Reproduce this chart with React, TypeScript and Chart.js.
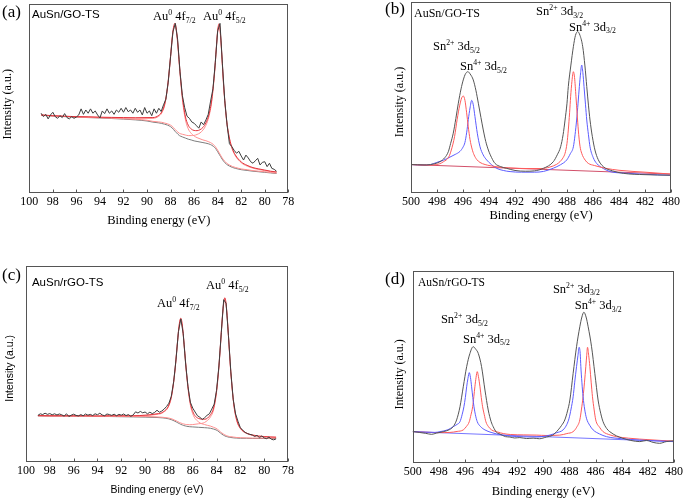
import React, { useEffect, useRef } from "react";
import { Chart, registerables } from "chart.js";

Chart.register(...registerables);

const SERIF = '"Liberation Serif", "Times New Roman", serif';
const SANS = '"Liberation Sans", Arial, sans-serif';

// ---------------- Panel (a): AuSn/GO-TS, Au 4f ----------------
const A_RAW_START = 99;
const A_RAW_STEP = 0.2;
const A_RAW = [
  42.1, 40.3, 41.5, 39.1, 41.2, 42.6, 40.3, 39.4, 40.8, 39.8,
  41.9, 39.8, 39.1, 40.3, 39.4, 40.1, 41.2, 44.4, 41.5, 43.8,
  42.1, 44.4, 42.1, 43.3, 41.2, 39.6, 43.3, 41.9, 44.4, 42.1,
  43.3, 41.5, 43.8, 42.6, 44.7, 42.6, 45.1, 42.9, 43.8, 42.1,
  44.7, 42.6, 43.8, 41.2, 45.1, 42.1, 43.3, 40.8, 44.4, 42.1,
  44.7, 43.0, 46.5, 49.5, 58.5, 72.0, 85.0, 89.5, 81.0, 64.0,
  51.5, 45.0, 40.5, 39.4, 37.5, 36.8, 35.5, 34.2, 37.5, 36.0,
  38.5, 41.5, 48.5, 55.0, 69.0, 85.5, 89.5, 68.5, 49.0, 36.0,
  26.0, 24.5, 22.5, 21.0, 22.0, 19.5, 17.4, 20.0, 18.5, 16.5,
  15.7, 17.0, 18.3, 14.8, 16.2, 16.5, 13.9, 15.7, 13.0, 12.5,
  11.5,
];
const A_FIT_X = [
  99, 98, 97, 96, 95, 94, 93, 92, 91, 90,
  89.5, 89, 88.75, 88.5, 88.25, 88,
  87.875, 87.75, 87.625, 87.5, 87.375, 87.25, 87,
  86.75, 86.5, 86.25, 86,
  85.75, 85.5, 85.25, 85,
  84.75, 84.5, 84.25, 84.125, 84,
  83.875, 83.75, 83.625, 83.5, 83.25, 83,
  82.75, 82.5, 82,
  81.5, 81, 80.5, 80, 79.5, 79,
];
const A_BG = [
  41.0, 40.6, 40.3, 40.0, 39.8, 39.6, 39.3, 39.0, 38.6, 38.0,
  37.4, 37.0, 36.7, 36.3, 35.8, 35.0,
  34.4, 33.5, 32.6, 31.8, 31.0, 30.3, 29.6,
  29.0, 28.4, 28.0, 27.5,
  27.2, 26.9, 26.6, 26.3,
  25.9, 25.2, 24.0, 23.0, 21.8,
  20.5, 19.2, 17.9, 16.8, 15.2, 14.2,
  13.5, 13.0, 12.3,
  11.9, 11.5, 11.2, 10.9, 10.6, 10.3,
];
const A_COMP1 = [
  41.1, 40.7, 40.5, 40.2, 40.1, 39.9, 39.7, 39.6, 39.5, 39.4,
  39.4, 40.5, 42.2, 46.3, 55.8, 71.5,
  80.4, 86.5, 88.6, 84.8, 77.0, 66.8, 49.6,
  39.0, 33.9, 31.5, 30.1,
  29.2, 28.6, 28.0, 27.6,
  27.0, 26.2, 24.9, 23.8, 22.6,
  21.3, 19.9, 18.6, 17.5, 15.8, 14.8,
  14.0, 13.5, 12.7,
  12.3, 11.8, 11.5, 11.2, 10.8, 10.5,
];
const A_COMP2 = [
  41.1, 40.7, 40.4, 40.1, 39.9, 39.7, 39.5, 39.2, 38.9, 38.4,
  37.8, 37.5, 37.3, 36.9, 36.5, 35.8,
  35.3, 34.4, 33.6, 32.8, 32.1, 31.5, 31.0,
  30.6, 30.3, 30.3, 30.4,
  30.9, 31.7, 33.2, 35.7,
  40.1, 48.4, 64.1, 75.0, 84.9,
  88.5, 82.3, 69.9, 56.9, 38.4, 28.4,
  22.9, 19.6, 16.0,
  14.2, 13.1, 12.4, 11.8, 11.3, 10.9,
];
const A_ENV = [
  41.2, 40.8, 40.5, 40.3, 40.2, 40.0, 39.9, 39.8, 39.7, 39.8,
  39.8, 41.0, 42.8, 46.9, 56.5, 72.3,
  81.3, 87.4, 89.6, 85.8, 78.1, 68.0, 51.0,
  40.6, 35.8, 33.8, 33.0,
  32.9, 33.4, 34.6, 37.0,
  41.2, 49.4, 64.9, 75.8, 85.7,
  89.3, 83.0, 70.6, 57.6, 39.0, 29.0,
  23.4, 20.1, 16.4,
  14.6, 13.4, 12.7, 12.1, 11.5, 11.1,
];

// ---------------- Panel (c): AuSn/rGO-TS, Au 4f ----------------
const C_RAW_START = 99;
const C_RAW_STEP = 0.2;
const C_RAW = [
  23.8, 24.6, 24.2, 24.9, 24.3, 24.7, 24.1, 24.6, 24.0, 24.5,
  24.1, 23.4, 24.6, 23.2, 23.9, 24.4, 23.8, 23.5, 24.2, 23.6,
  24.5, 23.9, 24.3, 23.7, 24.6, 24.1, 24.9, 24.0, 23.6, 24.5,
  24.2, 23.8, 24.4, 23.6, 24.3, 23.9, 24.5, 23.7, 24.2, 23.3,
  24.0, 25.6, 25.0, 25.8, 25.1, 25.5, 24.6, 25.4, 24.7, 25.3,
  26.4, 25.4, 26.0, 27.0, 28.3, 30.0, 33.5, 41.0, 52.5, 66.5,
  73.0, 65.5, 50.5, 38.5, 30.5, 27.5, 25.5, 23.6, 22.8, 21.7,
  22.6, 23.8, 24.6, 27.0, 29.5, 36.5, 49.0, 66.0, 82.8, 81.0,
  64.5, 46.0, 32.0, 24.5, 20.8, 17.5, 16.2, 15.1, 14.5, 14.1,
  13.8, 13.0, 13.6, 12.4, 13.3, 12.3, 11.9, 12.7, 11.6, 11.3,
  11.8,
];
const C_FIT_X = [
  99, 98, 97, 96, 95, 94, 93, 92, 91, 90,
  89, 88.5, 88, 87.75, 87.5,
  87.375, 87.25, 87.125, 87, 86.875, 86.75, 86.625, 86.5,
  86.25, 86, 85.5, 85, 84.5, 84.25,
  84.05, 83.925, 83.8, 83.675, 83.55, 83.425, 83.3,
  83.175, 83.05, 82.925, 82.8, 82.55, 82.3, 82,
  81.5, 81, 80, 79,
];
const C_BG = [
  23.5, 23.4, 23.4, 23.3, 23.3, 23.2, 23.2, 23.1, 23.0, 22.9,
  22.7, 22.5, 22.0, 21.5, 20.8,
  20.4, 20.0, 19.6, 19.2, 18.9, 18.6, 18.4, 18.2,
  18.0, 17.9, 17.7, 17.5, 17.2, 16.8,
  16.4, 16.0, 15.4, 14.8, 14.2, 13.7, 13.3,
  13.0, 12.8, 12.6, 12.5, 12.3, 12.2, 12.1,
  12.1, 12.0, 12.0, 12.0,
];
const C_COMP1 = [
  23.6, 23.5, 23.5, 23.5, 23.5, 23.4, 23.4, 23.4, 23.4, 23.7,
  24.3, 25.2, 28.7, 34.3, 45.9,
  54.1, 62.8, 69.9, 72.7, 69.2, 61.4, 52.1, 43.3,
  30.8, 24.6, 20.4, 19.1, 18.3, 17.7,
  17.2, 16.7, 16.1, 15.4, 14.8, 14.3, 13.8,
  13.5, 13.2, 13.0, 12.9, 12.7, 12.5, 12.4,
  12.3, 12.2, 12.2, 12.2,
];
const C_COMP2 = [
  23.6, 23.5, 23.5, 23.4, 23.4, 23.3, 23.4, 23.3, 23.2, 23.2,
  23.0, 22.8, 22.4, 22.0, 21.3,
  21.0, 20.6, 20.2, 19.9, 19.6, 19.4, 19.2, 19.1,
  19.0, 19.1, 19.5, 20.2, 23.1, 26.6,
  33.2, 39.8, 48.3, 58.9, 70.2, 79.5, 83.3,
  78.8, 68.8, 56.7, 45.4, 29.1, 21.0, 17.0,
  14.6, 13.6, 12.8, 12.5,
];
const C_ENV = [
  23.7, 23.6, 23.6, 23.6, 23.6, 23.5, 23.6, 23.6, 23.6, 23.9,
  24.6, 25.5, 29.1, 34.8, 46.4,
  54.7, 63.4, 70.5, 73.4, 69.9, 62.2, 52.9, 44.2,
  31.8, 25.8, 22.2, 21.8, 24.2, 27.5,
  34.0, 40.5, 49.0, 59.5, 70.8, 80.1, 83.8,
  79.3, 69.2, 57.1, 45.8, 29.5, 21.3, 17.3,
  14.8, 13.8, 13.0, 12.7,
];

// ---------------- Panel (b): AuSn/GO-TS, Sn 3d ----------------
const B_BG_X = [500, 480];
const B_BG = [14.9, 9.9];
const B_BLACK_X = [
  500, 499, 498.8, 498.2, 497.77, 497.4, 497.13, 496.95, 496.75, 496.55,
  496.36, 496.15, 495.98, 495.8, 495.62, 495.45, 495.21, 495.0, 494.82, 494.62,
  494.44, 494.25, 494.05, 493.8, 493.54, 493.1, 492.64, 492, 491.2, 490.5,
  489.82, 489.05, 488.75, 488.49, 488.3, 488.15, 488.0, 487.9, 487.7, 487.51,
  487.35, 487.18, 487.0, 486.79, 486.62, 486.48, 486.35, 486.23, 486.05, 485.85,
  485.6, 485.21, 484.5, 483.67, 482, 480.08,
];
const B_BLACK = [
  14.9, 14.7, 14.7, 15.3, 16.4, 18.5, 21.6, 26.0, 31.3, 39.0,
  47.0, 54.5, 59.2, 62.5, 63.5, 62.3, 59.2, 53.5, 47.0, 39.5,
  33.0, 27.0, 22.5, 18.5, 15.5, 13.8, 12.9, 11.8, 11.4, 11.6,
  12.9, 16.4, 20.0, 24.2, 30.5, 38.2, 47.0, 55.7, 67.0, 76.6,
  82.5, 84.5, 82.5, 76.6, 66.5, 55.7, 46.0, 38.2, 29.5, 22.5,
  17.5, 13.8, 11.6, 10.3, 9.6, 9.3,
];
const B_RED_X = [
  500, 499, 498.3, 497.8, 497.5, 497.1, 496.9, 496.65, 496.45, 496.25,
  496.1, 495.98, 495.85, 495.72, 495.6, 495.46, 495.3, 495.15, 494.95, 494.69,
  494.3, 493.92, 493, 492, 491, 490, 489.31, 488.8, 488.54, 488.3,
  488.15, 488.0, 487.9, 487.8, 487.72, 487.62, 487.51, 487.42, 487.31, 487.22,
  487.13, 487.0, 486.87, 486.6, 486.36, 485.9, 485.46, 485, 484, 482,
  480,
];
const B_RED = [
  14.9, 14.6, 14.7, 15.3, 16.4, 18.8, 22.5, 29.5, 38.5, 46.0,
  49.8, 50.8, 48.5, 42.0, 35.0, 28.0, 23.0, 20.0, 17.6, 16.0,
  14.9, 14.3, 13.4, 13.0, 12.8, 12.8, 13.6, 15.0, 16.4, 18.5,
  20.8, 26.0, 33.0, 42.0, 50.4, 58.5, 63.5, 60.5, 50.4, 41.5,
  33.0, 24.5, 20.8, 17.2, 15.5, 14.4, 13.6, 12.9, 11.9, 10.9,
  9.9,
];
const B_BLUE_X = [
  500, 499, 498.5, 498.02, 497.5, 497, 496.6, 496.23, 496.0, 495.85,
  495.72, 495.59, 495.46, 495.33, 495.22, 495.08, 494.9, 494.69, 494.45, 494.18,
  493.8, 493.41, 492.9, 492.38, 491.5, 490.5, 489.8, 489.05, 488.5, 488.02,
  487.75, 487.51, 487.38, 487.26, 487.15, 487.05, 486.95, 486.87, 486.78, 486.69,
  486.58, 486.48, 486.35, 486.23, 485.98, 485.72, 485.2, 484.69, 483.5, 482.38,
  481, 480,
];
const B_BLUE = [
  14.9, 14.6, 14.9, 16.0, 17.2, 18.8, 20.2, 21.8, 24.0, 26.5,
  31.5, 38.5, 44.5, 48.5, 46.5, 40.0, 31.3, 24.2, 20.0, 17.3,
  14.8, 12.9, 11.8, 11.2, 10.9, 10.9, 11.3, 13.0, 14.8, 17.3,
  20.5, 24.2, 30.5, 38.2, 47.0, 55.7, 63.0, 67.0, 63.0, 55.7,
  46.5, 38.2, 30.5, 24.2, 18.5, 15.5, 12.8, 11.2, 10.4, 9.9,
  9.5, 9.3,
];

// ---------------- Panel (d): AuSn/rGO-TS, Sn 3d ----------------
const D_BG_X = [500, 480];
const D_BG = [16.2, 11.0];
const D_BLACK_X = [
  500, 499.5, 499, 498.55, 498.2, 497.66, 497.2, 496.9, 496.64, 496.38,
  496.13, 495.87, 495.62, 495.37, 495.15, 494.98, 494.73, 494.47, 494.22, 494.0,
  493.84, 493.58, 493.33, 492.9, 492.56, 492.2, 491.8, 491.28, 490.78, 490.3,
  489.76, 489.3, 488.87, 488.6, 488.36, 488.15, 487.97, 487.72, 487.46, 487.21,
  487.05, 486.9, 486.73, 486.57, 486.31, 486.06, 485.81, 485.6, 485.43, 485.15,
  484.92, 484.4, 483.9, 483.3, 482.62, 482.1, 481.6, 481.1, 480.6, 480,
];
const D_BLACK = [
  16.3, 15.8, 15.3, 14.8, 15.4, 16.2, 17.2, 18.8, 22.3, 29.2,
  39.6, 50.1, 57.0, 60.5, 59.0, 57.0, 50.1, 37.9, 27.5, 21.5,
  18.8, 15.8, 15.0, 13.6, 13.4, 12.9, 13.1, 12.6, 12.8, 12.5,
  13.4, 14.3, 17.1, 19.5, 22.3, 27.0, 32.7, 46.6, 60.5, 70.9,
  76.0, 78.5, 76.0, 70.9, 60.5, 46.6, 32.7, 25.5, 21.4, 17.8,
  16.2, 14.0, 12.7, 11.6, 11.0, 11.6, 10.6, 10.1, 11.0, 11.4,
];
const D_BLUE_X = [
  500, 499, 498.3, 497.91, 497.3, 496.9, 496.6, 496.38, 496.22, 496.08,
  495.97, 495.87, 495.77, 495.67, 495.58, 495.49, 495.4, 495.31, 495.2, 495.06,
  494.8, 494.47, 494.0, 493.58, 492.56, 491.5, 490.5, 489.5, 489.0, 488.49,
  488.2, 488.03, 487.88, 487.72, 487.6, 487.46, 487.35, 487.26, 487.18, 487.13,
  487.05, 486.96, 486.84, 486.7, 486.45, 486.19, 485.7, 485.17, 484, 482.62,
  481, 480,
];
const D_BLUE = [
  16.2, 15.9, 15.8, 16.2, 17.2, 18.8, 20.0, 21.4, 25.0, 29.2,
  34.0, 39.6, 44.0, 47.0, 44.5, 39.6, 34.0, 29.2, 25.0, 21.4,
  18.8, 17.1, 15.8, 15.0, 13.9, 13.5, 13.4, 14.4, 15.6, 17.1,
  20.0, 23.2, 28.0, 34.4, 42.0, 50.1, 56.0, 60.2, 57.0, 50.1,
  42.0, 34.4, 28.0, 23.2, 19.5, 17.1, 15.0, 13.6, 12.5, 11.8,
  11.3, 11.0,
];
const D_RED_X = [
  500, 499, 498, 497.15, 496.6, 496.13, 495.9, 495.67, 495.54, 495.41,
  495.32, 495.24, 495.15, 495.06, 494.97, 494.85, 494.75, 494.65, 494.52, 494.4,
  494.2, 493.96, 493.5, 493.07, 492.5, 491.5, 490.5, 489.8, 488.74, 488.2,
  487.72, 487.45, 487.21, 487.08, 486.96, 486.85, 486.75, 486.68, 486.62, 486.53,
  486.44, 486.34, 486.24, 486.12, 485.99, 485.7, 485.43, 484.9, 484.4, 483.5,
  482.62, 481, 480,
];
const D_RED = [
  16.2, 15.9, 15.7, 15.8, 16.3, 17.1, 18.8, 21.4, 25.0, 29.2,
  34.5, 39.6, 44.5, 47.5, 45.0, 39.6, 34.0, 29.2, 25.0, 21.4,
  18.8, 17.1, 16.0, 15.2, 14.7, 14.5, 14.4, 14.2, 14.4, 15.2,
  16.2, 18.5, 22.3, 28.0, 34.4, 42.0, 50.1, 56.0, 60.2, 56.0,
  50.1, 42.0, 34.4, 28.0, 22.3, 18.5, 16.2, 14.5, 13.6, 12.8,
  12.3, 11.6, 11.3,
];

// ---------------- text ----------------
const X_TITLE = "Binding energy (eV)";
const Y_TITLE = "Intensity (a.u.)";

type Part = { t: string; k?: "sup" | "sub" };
type Label = { x: number; y: number; parts: Part[]; family?: string; size?: number };

const au = (j: string): Part[] => [{ t: "Au" }, { t: "0", k: "sup" }, { t: " 4f" }, { t: j, k: "sub" }];
const sn = (q: string, j: string): Part[] => [{ t: "Sn" }, { t: q, k: "sup" }, { t: " 3d" }, { t: j, k: "sub" }];

const A_LABELS: Label[] = [
  { x: 99.77, y: 92.2, parts: [{ t: "AuSn/GO-TS" }], family: SANS, size: 11.5 },
  { x: 89.49, y: 91.3, parts: au("7/2") },
  { x: 85.24, y: 91.3, parts: au("5/2") },
];
const B_LABELS: Label[] = [
  { x: 499.77, y: 92.0, parts: [{ t: "AuSn/GO-TS" }], size: 12 },
  { x: 498.31, y: 74.9, parts: sn("2+", "5/2") },
  { x: 496.23, y: 64.4, parts: sn("4+", "5/2") },
  { x: 490.38, y: 93.2, parts: sn("2+", "3/2") },
  { x: 487.85, y: 85.0, parts: sn("4+", "3/2") },
];
const C_LABELS: Label[] = [
  { x: 99.5, y: 89.8, parts: [{ t: "AuSn/rGO-TS" }], family: SANS, size: 11.5 },
  { x: 89.0, y: 78.9, parts: au("7/2") },
  { x: 84.89, y: 88.1, parts: au("5/2") },
];
const D_LABELS: Label[] = [
  { x: 499.6, y: 92.2, parts: [{ t: "AuSn/rGO-TS" }], size: 11.5 },
  { x: 489.27, y: 88.7, parts: sn("2+", "3/2") },
  { x: 487.6, y: 80.0, parts: sn("4+", "3/2") },
  { x: 497.84, y: 72.7, parts: sn("2+", "5/2") },
  { x: 496.15, y: 62.6, parts: sn("4+", "5/2") },
];

// ---------------- helpers ----------------
const grid = (start: number, step: number, n: number) =>
  Array.from({ length: n }, (_, i) => Math.round((start - step * i) * 1000) / 1000);

type Series = { x: number[]; y: number[]; color: string; smooth: boolean };

interface PanelCfg {
  key: string;
  left: number; top: number; width: number; height: number;
  pad: { left: number; top: number; right: number; bottom: number };
  yWidth: number; xHeight: number;
  xMin: number; xMax: number;
  titleFamily: string; titleSize: number; yTitleSize: number;
  xTitlePad: number; yTitlePad: number; yShift: number;
  tag: string; tagX: number; tagY: number;
  labels: Label[];
  series: Series[];
}

const RAW_C = "#3d3d3d";
const ENV_C = "#e2333b";
const COMP_C = "#ff8f8f";
const BG_C = "#7c7c7c";
const BLACK_C = "#555555";
const RED_C = "#ff5a5a";
const BLUE_C = "#5c5cff";
const FRAME_C = "#555555";

const PANELS: PanelCfg[] = [
  {
    key: "a", left: 0, top: 0, width: 340, height: 240,
    pad: { left: 0, top: 3.5, right: 51.7, bottom: 0 },
    yWidth: 29.3, xHeight: 47, xMin: 78, xMax: 100,
    titleFamily: SERIF, titleSize: 12.5, yTitleSize: 12,
    xTitlePad: 11.4, yTitlePad: 0.8, yShift: 4,
    tag: "(a)", tagX: 2, tagY: 12.5, labels: A_LABELS,
    series: [
      { x: grid(A_RAW_START, A_RAW_STEP, A_RAW.length), y: A_RAW, color: RAW_C, smooth: false },
      { x: A_FIT_X, y: A_ENV, color: ENV_C, smooth: true },
      { x: A_FIT_X, y: A_COMP1, color: COMP_C, smooth: true },
      { x: A_FIT_X, y: A_COMP2, color: COMP_C, smooth: true },
      { x: A_FIT_X, y: A_BG, color: BG_C, smooth: true },
    ],
  },
  {
    key: "b", left: 340, top: 0, width: 345, height: 240,
    pad: { left: 52, top: 2, right: 14, bottom: 0 },
    yWidth: 19, xHeight: 47, xMin: 480, xMax: 500,
    titleFamily: SERIF, titleSize: 12.5, yTitleSize: 12,
    xTitlePad: 17.2, yTitlePad: 0.8, yShift: 3,
    tag: "(b)", tagX: 45, tagY: 10, labels: B_LABELS,
    series: [
      { x: B_BLACK_X, y: B_BLACK, color: BLACK_C, smooth: true },
      { x: B_RED_X, y: B_RED, color: RED_C, smooth: true },
      { x: B_BLUE_X, y: B_BLUE, color: BLUE_C, smooth: true },
      { x: B_BG_X, y: B_BG, color: "#d2506a", smooth: false },
    ],
  },
  {
    key: "c", left: 0, top: 240, width: 340, height: 261,
    pad: { left: 0, top: 26, right: 52, bottom: 0 },
    yWidth: 26, xHeight: 39, xMin: 78, xMax: 100,
    titleFamily: SANS, titleSize: 10.5, yTitleSize: 10.5,
    xTitlePad: 4.7, yTitlePad: 3.7, yShift: 3,
    tag: "(c)", tagX: 2, tagY: 36, labels: C_LABELS,
    series: [
      { x: grid(C_RAW_START, C_RAW_STEP, C_RAW.length), y: C_RAW, color: RAW_C, smooth: false },
      { x: C_FIT_X, y: C_ENV, color: ENV_C, smooth: true },
      { x: C_FIT_X, y: C_COMP1, color: COMP_C, smooth: true },
      { x: C_FIT_X, y: C_COMP2, color: COMP_C, smooth: true },
      { x: C_FIT_X, y: C_BG, color: BG_C, smooth: true },
    ],
  },
  {
    key: "d", left: 340, top: 240, width: 345, height: 261,
    pad: { left: 52, top: 31, right: 10.7, bottom: 0 },
    yWidth: 20.7, xHeight: 38.3, xMin: 480, xMax: 500,
    titleFamily: SERIF, titleSize: 12.5, yTitleSize: 12,
    xTitlePad: 2.2, yTitlePad: 0.8, yShift: 5,
    tag: "(d)", tagX: 45, tagY: 40, labels: D_LABELS,
    series: [
      { x: D_BLACK_X, y: D_BLACK, color: BLACK_C, smooth: true },
      { x: D_BLUE_X, y: D_BLUE, color: BLUE_C, smooth: true },
      { x: D_RED_X, y: D_RED, color: RED_C, smooth: true },
      { x: D_BG_X, y: D_BG, color: "#7676ff", smooth: false },
    ],
  },
];

function drawRich(ctx: CanvasRenderingContext2D, x: number, y: number, parts: Part[], family: string, size: number) {
  let cx = x;
  for (const p of parts) {
    const fs = p.k ? size * 0.62 : size;
    ctx.font = `${fs}px ${family}`;
    const dy = p.k === "sup" ? -size * 0.4 : p.k === "sub" ? size * 0.22 : 0;
    ctx.fillText(p.t, cx, y + dy);
    cx += ctx.measureText(p.t).width;
  }
}

function decorPlugin(cfg: PanelCfg) {
  return {
    id: "decor_" + cfg.key,
    afterDatasetsDraw(chart: any) {
      const { ctx, chartArea: ca } = chart;
      const xs = chart.scales.x;
      const ys = chart.scales.y;
      ctx.save();
      ctx.strokeStyle = FRAME_C;
      ctx.lineWidth = 1;
      const l = Math.round(ca.left) + 0.5;
      const t = Math.round(ca.top) + 0.5;
      const r = Math.round(ca.right) - 0.5;
      const b = Math.round(ca.bottom) - 0.5;
      ctx.strokeRect(l, t, r - l, b - t);
      ctx.beginPath();
      for (const tk of xs.ticks) {
        const px = Math.round(xs.getPixelForValue(tk.value)) + 0.5;
        ctx.moveTo(px, b);
        ctx.lineTo(px, b - 3);
      }
      ctx.stroke();
      ctx.fillStyle = "#000";
      ctx.textAlign = "left";
      ctx.textBaseline = "alphabetic";
      for (const lb of cfg.labels) {
        drawRich(ctx, xs.getPixelForValue(lb.x), ys.getPixelForValue(lb.y), lb.parts, lb.family ?? SERIF, lb.size ?? 12.5);
      }
      ctx.font = `17px ${SERIF}`;
      ctx.textBaseline = "middle";
      ctx.fillText(cfg.tag, cfg.tagX, cfg.tagY);
      ctx.restore();
    },
  };
}

function Panel({ cfg }: { cfg: PanelCfg }) {
  const ref = useRef<HTMLCanvasElement | null>(null);
  useEffect(() => {
    const canvas = ref.current;
    if (!canvas) return;
    const chart = new Chart(canvas, {
      type: "line",
      data: {
        datasets: cfg.series.map((s) => ({
          data: s.x.map((x, i) => ({ x, y: s.y[i] })).filter((p) => p.y !== undefined),
          borderColor: s.color,
          borderWidth: 1,
          pointRadius: 0,
          fill: false,
          tension: 0,
          cubicInterpolationMode: s.smooth ? "monotone" : "default",
        })),
      },
      options: {
        responsive: false,
        animation: false,
        events: [],
        layout: { padding: cfg.pad },
        plugins: { legend: { display: false }, tooltip: { enabled: false }, title: { display: false } },
        scales: {
          x: {
            type: "linear",
            reverse: true,
            min: cfg.xMin,
            max: cfg.xMax,
            afterFit: (s: any) => { s.height = cfg.xHeight; },
            grid: { display: false, drawTicks: false },
            border: { display: false },
            ticks: { stepSize: 2, padding: 2, color: "#000", autoSkip: false, maxRotation: 0, font: { family: SERIF, size: 12 } },
            title: {
              display: true, text: X_TITLE, color: "#000",
              font: { family: cfg.titleFamily, size: cfg.titleSize },
              padding: { top: 0, bottom: cfg.xTitlePad },
            },
          },
          y: {
            type: "linear",
            min: 0,
            max: 100,
            afterFit: (s: any) => { s.width = cfg.yWidth; },
            grid: { display: false, drawTicks: false },
            border: { display: false },
            ticks: { display: false },
            title: {
              display: true, text: Y_TITLE + "\u00a0".repeat(cfg.yShift), color: "#000",
              font: { family: cfg.titleFamily, size: cfg.yTitleSize },
              padding: { top: cfg.yTitlePad, bottom: 0 },
            },
          },
        },
      } as any,
      plugins: [decorPlugin(cfg)],
    });
    return () => chart.destroy();
  }, [cfg]);
  return (
    <canvas
      ref={ref}
      width={cfg.width}
      height={cfg.height}
      style={{ position: "absolute", left: cfg.left, top: cfg.top, width: cfg.width, height: cfg.height }}
    />
  );
}

export default function App() {
  return (
    <div style={{ position: "absolute", left: 0, top: 0, width: 685, height: 501, background: "#fff" }}>
      {PANELS.map((p) => (
        <Panel key={p.key} cfg={p} />
      ))}
    </div>
  );
}
